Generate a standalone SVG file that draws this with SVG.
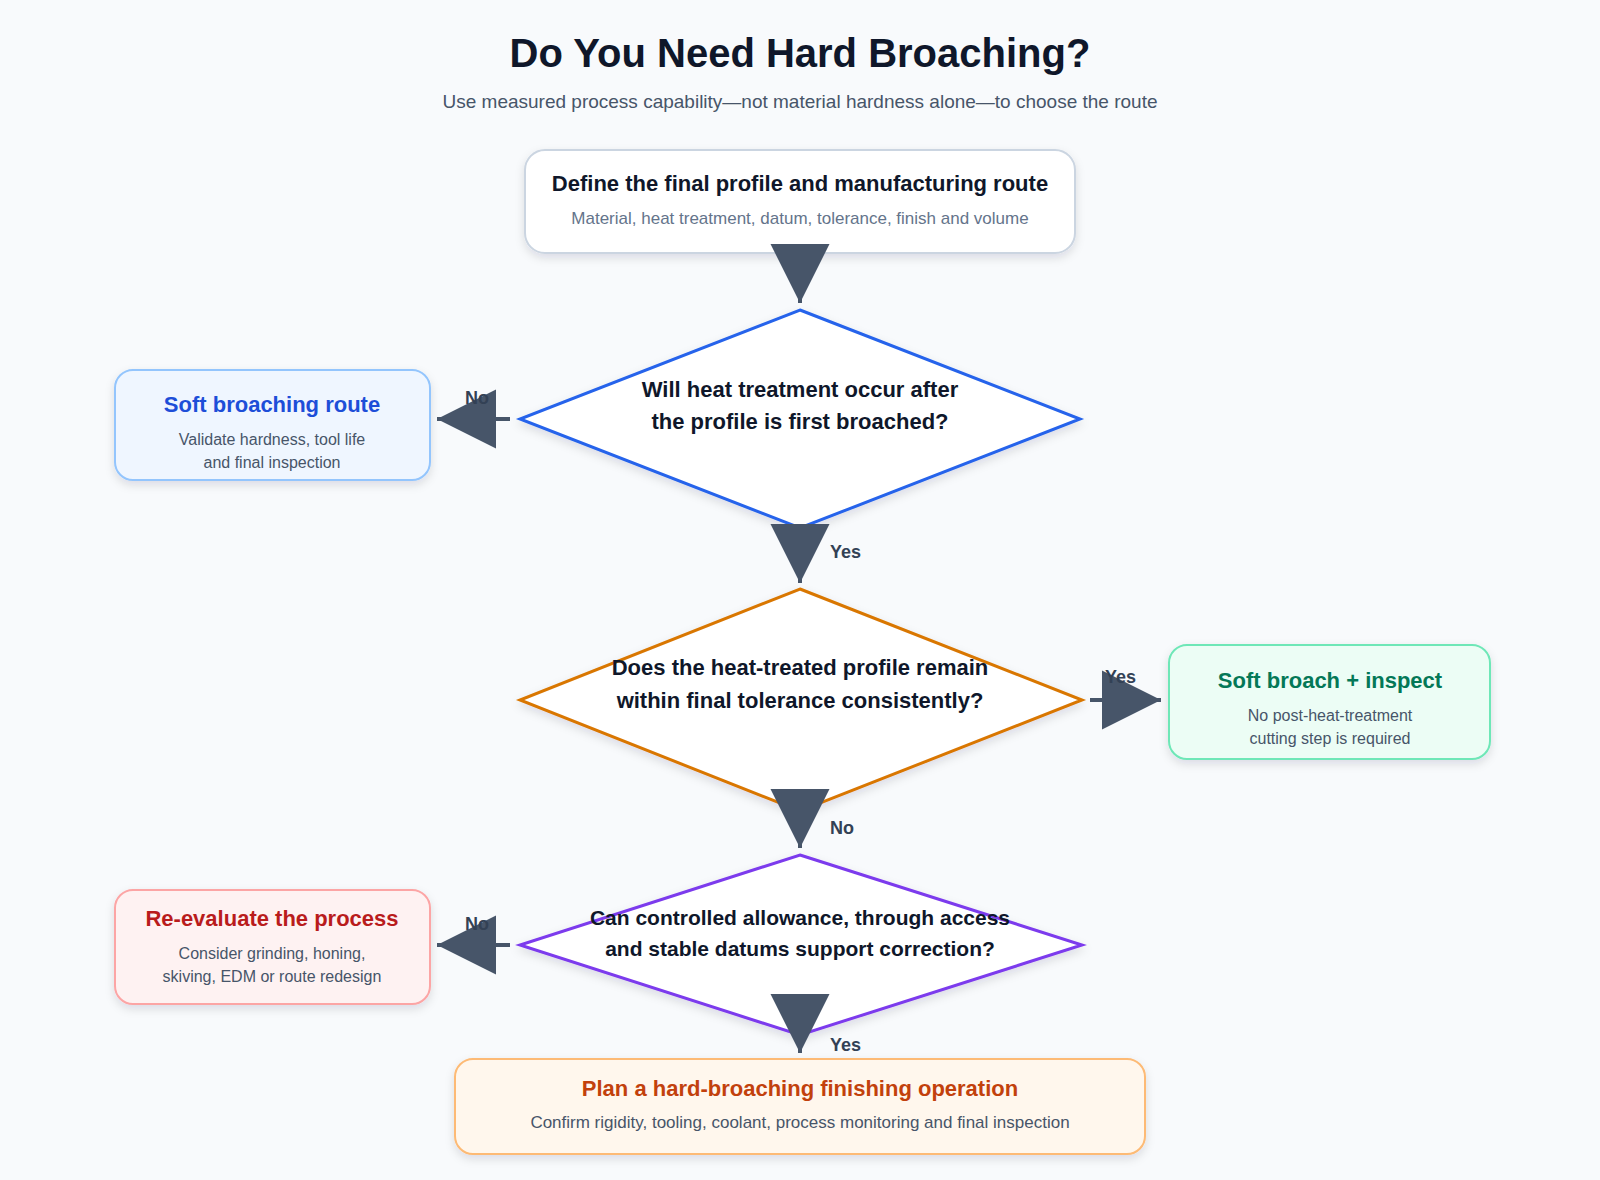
<svg xmlns="http://www.w3.org/2000/svg" width="1600" height="1180" viewBox="0 0 1600 1180">
<style>
text{font-family:"Liberation Sans",Arial,sans-serif;text-anchor:middle}
.t{font-size:22px;font-weight:bold;fill:#0f172a}
.s{font-size:16px;fill:#475569}
.lbl{font-size:18px;font-weight:bold;fill:#334155;text-anchor:start}
.c{stroke:#475569;stroke-width:4;fill:none;marker-end:url(#ah)}
</style>
<defs>
<marker id="ah" viewBox="0 0 10 10" refX="10" refY="5" markerWidth="59" markerHeight="60" markerUnits="userSpaceOnUse" orient="auto"><path d="M0,0L10,5L0,10Z" fill="#475569"/></marker>
<filter id="sh" x="-10%" y="-10%" width="120%" height="130%"><feDropShadow dx="0" dy="4" stdDeviation="5" flood-color="#0f172a" flood-opacity="0.12"/></filter>
</defs>
<rect width="1600" height="1180" fill="#f8fafc"/>
<text x="800" y="67" style="font-size:40px;font-weight:bold;fill:#0f172a">Do You Need Hard Broaching?</text>
<text x="800" y="108" style="font-size:19px;fill:#475569">Use measured process capability—not material hardness alone—to choose the route</text>

<g id="n1"><rect x="525" y="150" width="550" height="103" rx="20" fill="#fff" stroke="#cbd5e1" stroke-width="2" filter="url(#sh)"/>
<text x="800" y="191" class="t">Define the final profile and manufacturing route</text>
<text x="800" y="224" class="s" style="fill:#64748b;font-size:17px">Material, heat treatment, datum, tolerance, finish and volume</text></g>

<g id="d1"><polygon points="800,310 1080,419 800,528 520,419" fill="#fff" stroke="#2563eb" stroke-width="3" filter="url(#sh)"/>
<text x="800" y="397" class="t">Will heat treatment occur after</text>
<text x="800" y="429" class="t">the profile is first broached?</text></g>

<g id="softRoute"><rect x="115" y="370" width="315" height="110" rx="18" fill="#eff6ff" stroke="#93c5fd" stroke-width="2" filter="url(#sh)"/>
<text x="272" y="412" class="t" style="fill:#1d4ed8">Soft broaching route</text>
<text x="272" y="445" class="s">Validate hardness, tool life</text>
<text x="272" y="468" class="s">and final inspection</text></g>

<g id="d2"><polygon points="800,589 1082,700 800,811 520,700" fill="#fff" stroke="#d97706" stroke-width="3" filter="url(#sh)"/>
<text x="800" y="675" class="t">Does the heat-treated profile remain</text>
<text x="800" y="708" class="t">within final tolerance consistently?</text></g>

<g id="softInspect"><rect x="1169" y="645" width="321" height="114" rx="18" fill="#ecfdf5" stroke="#6ee7b7" stroke-width="2" filter="url(#sh)"/>
<text x="1330" y="688" class="t" style="fill:#047857">Soft broach + inspect</text>
<text x="1330" y="721" class="s">No post-heat-treatment</text>
<text x="1330" y="744" class="s">cutting step is required</text></g>

<g id="d3"><polygon points="800,855 1082,945 800,1035 520,945" fill="#fff" stroke="#7c3aed" stroke-width="3" filter="url(#sh)"/>
<text x="800" y="925" class="t" style="font-size:21px">Can controlled allowance, through access</text>
<text x="800" y="956" class="t" style="font-size:21px">and stable datums support correction?</text></g>

<g id="reeval"><rect x="115" y="890" width="315" height="114" rx="18" fill="#fef2f2" stroke="#fca5a5" stroke-width="2" filter="url(#sh)"/>
<text x="272" y="926" class="t" style="fill:#b91c1c">Re-evaluate the process</text>
<text x="272" y="959" class="s">Consider grinding, honing,</text>
<text x="272" y="982" class="s">skiving, EDM or route redesign</text></g>

<g id="hard"><rect x="455" y="1059" width="690" height="95" rx="18" fill="#fff7ed" stroke="#fdba74" stroke-width="2" filter="url(#sh)"/>
<text x="800" y="1096" class="t" style="fill:#c2410c">Plan a hard-broaching finishing operation</text>
<text x="800" y="1128" class="s" style="font-size:17px">Confirm rigidity, tooling, coolant, process monitoring and final inspection</text></g>

<g id="connectors">
<path class="c" d="M800,253V303"/>
<path class="c" d="M510,419H437"/>
<text x="465" y="404" class="lbl">No</text>
<path class="c" d="M800,528V583"/>
<text x="830" y="558" class="lbl">Yes</text>
<path class="c" d="M1090,700H1161"/>
<text x="1105" y="683" class="lbl">Yes</text>
<path class="c" d="M800,789V848"/>
<text x="830" y="834" class="lbl">No</text>
<path class="c" d="M510,945H437"/>
<text x="465" y="930" class="lbl">No</text>
<path class="c" d="M800,994V1053"/>
<text x="830" y="1051" class="lbl">Yes</text>
</g>
</svg>
